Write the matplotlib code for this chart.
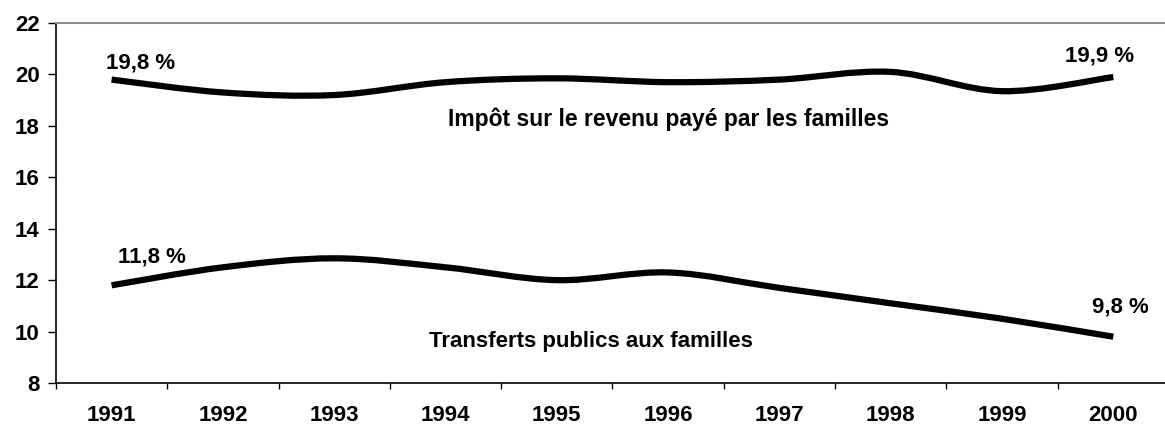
import matplotlib.pyplot as plt
import numpy as np
from matplotlib.path import Path
from matplotlib.patches import PathPatch

plt.rcParams['font.family'] = ['Liberation Sans', 'DejaVu Sans']
plt.rcParams['font.weight'] = 'bold'

# Data
years = ['1991', '1992', '1993', '1994', '1995', '1996', '1997', '1998', '1999', '2000']
impot = [19.8, 19.3, 19.2, 19.7, 19.85, 19.7, 19.8, 20.1, 19.35, 19.9]
transferts = [11.8, 12.5, 12.85, 12.5, 12.0, 12.3, 11.7, 11.1, 10.5, 9.8]


def smooth_path(xs, ys):
    """Excel-like smoothed line: Catmull-Rom segments as cubic Bezier curves."""
    pts = np.column_stack([xs, ys]).astype(float)
    n = len(pts)
    verts = [pts[0]]
    codes = [Path.MOVETO]
    for i in range(n - 1):
        p0 = pts[max(i - 1, 0)]
        p1 = pts[i]
        p2 = pts[i + 1]
        p3 = pts[min(i + 2, n - 1)]
        c1 = p1 + (p2 - p0) / 6
        c2 = p2 - (p3 - p1) / 6
        verts += [c1, c2, p2]
        codes += [Path.CURVE4] * 3
    return Path(verts, codes)


x = np.arange(1, len(years) + 1)

fig = plt.figure(figsize=(11.65, 4.25), dpi=100)
ax = fig.add_axes([0.048, 0.0988, 0.9554, 0.847])

for series in (impot, transferts):
    patch = PathPatch(smooth_path(x, series), facecolor='none', edgecolor='black',
                      lw=4.5, capstyle='butt', joinstyle='round')
    ax.add_patch(patch)

ax.set_xlim(0.5, len(years) + 0.5)
ax.set_ylim(8, 22)
ax.set_yticks(np.arange(8, 23, 2))
ax.set_xticks(np.arange(0.5, len(years) + 1, 1))
ax.set_xticklabels([])
ax.set_xticks(x, minor=True)
ax.set_xticklabels(years, minor=True)
ax.tick_params(axis='x', which='minor', length=0, pad=16, labelsize=16)
ax.tick_params(axis='x', which='major', length=4.5, width=1, direction='out')
ax.tick_params(axis='y', length=5.8, width=1, direction='out', labelsize=16, pad=6)

ax.spines['right'].set_visible(False)
ax.spines['top'].set_color('#8c8c8c')
ax.spines['top'].set_linewidth(1.5)
ax.spines['left'].set_linewidth(1.2)
ax.spines['bottom'].set_linewidth(1.2)

# Annotations
txt = dict(fontsize=16, fontweight='bold', ha='center', va='baseline')
ax.text(1.26, 20.25, '19,8 %', **txt)
ax.text(1.36, 12.67, '11,8 %', **txt)
ax.text(9.88, 20.52, '19,9 %', **txt)
ax.text(10.06, 10.76, '9,8 %', **txt)
ax.text(6.0, 18.0, 'Impôt sur le revenu payé par les familles', **{**txt, 'fontsize': 16.5})
ax.text(5.31, 9.4, 'Transferts publics aux familles', **txt)

fig.savefig('out.png', dpi=100)
